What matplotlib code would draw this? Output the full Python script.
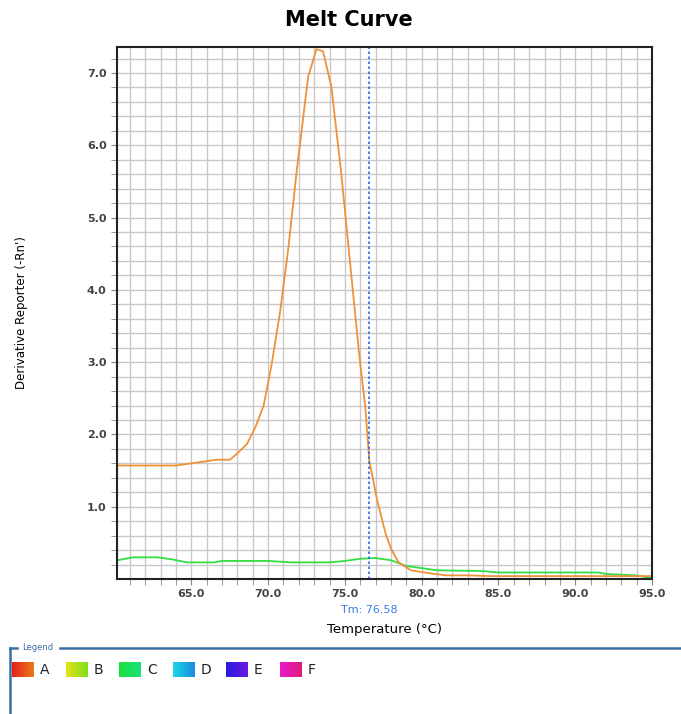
import numpy as np
import matplotlib
matplotlib.use("Agg")
import matplotlib.pyplot as plt
from matplotlib.lines import Line2D

# sample A (orange) derivative reporter
temp_a = [60.2, 61, 62, 63, 64, 65, 66, 66.6, 67.5, 67.8, 68.1, 68.63, 69.17, 69.71, 70.24,
          70.79, 71.32, 71.86, 72.61, 73.15, 73.58, 74.12, 74.77, 75.41, 75.95, 76.33, 76.59,
          77.1, 77.65, 78.0, 78.5, 79.3, 80.5, 81.6, 83.0, 84.5, 86.0, 90.0, 95.0]
melt_a = [1.57, 1.57, 1.57, 1.57, 1.57, 1.60, 1.63, 1.65, 1.65, 1.70, 1.76, 1.87, 2.10, 2.40, 2.98,
          3.71, 4.58, 5.64, 6.95, 7.33, 7.30, 6.81, 5.60, 4.22, 3.07, 2.38, 1.64,
          1.09, 0.63, 0.42, 0.23, 0.12, 0.08, 0.05, 0.05, 0.04, 0.04, 0.04, 0.04]

# sample C (green)
temp_c = [60.2, 61.2, 62.8, 63.8, 64.7, 66.5, 67.0, 70.0, 71.5, 74.0, 75.0, 76.0, 77.0, 78.0,
          79.0, 80.0, 81.0, 84.0, 85.0, 91.5, 92.0, 94.0, 95.0]
melt_c = [0.26, 0.30, 0.30, 0.27, 0.23, 0.23, 0.25, 0.25, 0.23, 0.23, 0.25, 0.28, 0.29, 0.26,
          0.18, 0.15, 0.12, 0.11, 0.09, 0.09, 0.07, 0.05, 0.01]

tm = 76.58
xticks = [65.0, 70.0, 75.0, 80.0, 85.0, 90.0, 95.0]
yticks = [1.0, 2.0, 3.0, 4.0, 5.0, 6.0, 7.0]

legend_names = ["A", "B", "C", "D", "E", "F"]
legend_grad = [("#e8201a", "#e87a1a"), ("#e6e01a", "#7ee01a"), ("#1ae03a", "#1ae07a"),
               ("#1ad8e8", "#1a8ae0"), ("#2a1ae0", "#6a1ae0"), ("#e81ad0", "#e01a7a")]

fig = plt.figure(figsize=(6.81, 7.14), dpi=100)
ax = fig.add_axes([117/681, 1-579/714, (652-117)/681, (579-47)/714])

ax.set_xlim(60.16, 95.0)
ax.set_ylim(0.0, 7.36)
ax.set_xticks(np.arange(61, 96, 1.0), minor=True)
ax.set_yticks(np.arange(0.2, 7.36, 0.2), minor=True)
ax.set_xticks(xticks)
ax.set_yticks(yticks)
ax.set_xticklabels(["%.1f" % v for v in xticks])
ax.set_yticklabels(["%.1f" % v for v in yticks])
ax.grid(True, which="both", color="#c8c8c8", lw=1.0)
ax.set_axisbelow(True)
ax.tick_params(which="both", direction="out", length=4, color="#888888",
               labelsize=8, labelcolor="#444444")
for lab in ax.get_xticklabels() + ax.get_yticklabels():
    lab.set_fontweight("bold")
for sp in ax.spines.values():
    sp.set_linewidth(1.5)
    sp.set_color("#222222")

ax.plot(temp_c, melt_c, color="#33dd44", lw=1.3)
ax.plot(temp_a, melt_a, color="#f0913a", lw=1.3)
ax.axvline(tm, color="#2a6ae0", lw=1.2, ls=(0, (1.5, 1.5)))

ax.text(tm, -0.43, "Tm: 76.58", color="#3a7ae8", fontsize=8, ha="center", va="center")
ax.set_xlabel("Temperature (°C)", fontsize=9.5, labelpad=17)
ax.set_ylabel("Derivative Reporter (-Rn')", fontsize=8.5, labelpad=42)
fig.text(349/681, 1 - 20/714, "Melt Curve", fontsize=15, fontweight="bold",
         ha="center", va="center")

# legend panel
lg = fig.add_axes([0, 0, 1, 1 - 644/714])
lg.axis("off")
blue = "#3a6ea5"
lg.add_line(Line2D([10, 10], [4, 70], color=blue, lw=1.8))
lg.add_line(Line2D([10, 17], [4, 4], color=blue, lw=1.8))
lg.add_line(Line2D([60, 681], [4, 4], color=blue, lw=1.8))
lg.text(22, 4, "Legend", color=blue, fontsize=6, va="center")
grad = np.linspace(0, 1, 50).reshape(1, -1)
for i, (name, (c1, c2)) in enumerate(zip(legend_names, legend_grad)):
    x0 = 12 + i * 53.5
    cmap = matplotlib.colors.LinearSegmentedColormap.from_list(name, [c1, c2])
    lg.imshow(grad, cmap=cmap, extent=(x0, x0 + 22, 33, 18), aspect="auto")
    lg.text(x0 + 28, 25.5, name, fontsize=10, va="center", color="#222222")
lg.set_xlim(0, 681)
lg.set_ylim(70, 0)

fig.savefig("out.png", dpi=100)
